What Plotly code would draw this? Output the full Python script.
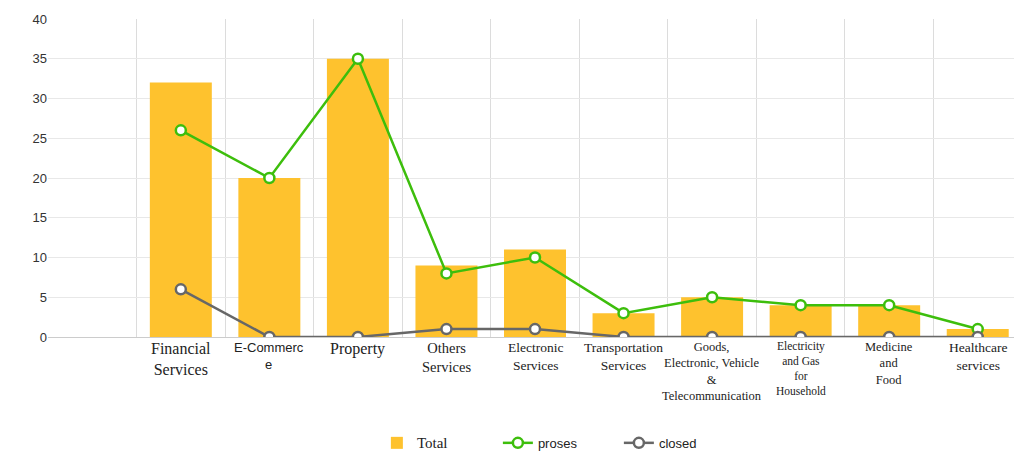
import plotly.graph_objects as go

categories = ["Financial<br>Services", "E-Commerc<br>e", "Property", "Others<br>Services",
              "Electronic<br>Services", "Transportation<br>Services",
              "Goods,<br>Electronic, Vehicle<br>&amp;<br>Telecommunication",
              "Electricity<br>and Gas<br>for<br>Household", "Medicine<br>and<br>Food",
              "Healthcare<br>services"]
total = [32, 20, 35, 9, 11, 3, 5, 4, 4, 1]
proses = [26, 20, 35, 8, 10, 3, 5, 4, 4, 1]
closed = [6, 0, 0, 1, 1, 0, 0, 0, 0, 0]
y_ticks = [0, 5, 10, 15, 20, 25, 30, 35, 40]

label_fonts = [
    ("Liberation Serif", 16), ("Liberation Sans", 13), ("Liberation Serif", 16),
    ("Liberation Serif", 14.5), ("Liberation Serif", 13.5), ("Liberation Serif", 13.5),
    ("Liberation Serif", 12.5), ("Liberation Serif", 11.5), ("Liberation Serif", 12.5),
    ("Liberation Serif", 13.5),
]

xs = list(range(1, len(categories) + 1))

fig = go.Figure()
fig.add_trace(go.Bar(
    x=xs, y=total, width=0.7, name="<span style='font-family:Liberation Serif;font-size:15px'>Total</span>",
    marker=dict(color="#FEC22E", line=dict(width=0)),
))
fig.add_trace(go.Scatter(
    x=xs, y=proses, mode="lines+markers", name="proses",
    line=dict(color="#3DBE0C", width=2.5),
    marker=dict(size=10, color="white", line=dict(color="#3DBE0C", width=2.5)),
))
fig.add_trace(go.Scatter(
    x=xs, y=closed, mode="lines+markers", name="closed",
    line=dict(color="#676767", width=2.5),
    marker=dict(size=10, color="white", line=dict(color="#676767", width=2.5)),
))

for x, lab, (fam, sz) in zip(xs, categories, label_fonts):
    fig.add_annotation(x=x, y=0, xref="x", yref="y", text=lab, showarrow=False,
                       yanchor="top", yshift=-1, align="center",
                       font=dict(family=fam, size=sz, color="#222222"))

fig.update_layout(
    width=1014, height=458,
    margin=dict(l=40, r=0, t=11, b=129),
    plot_bgcolor="white", paper_bgcolor="white",
    showlegend=True,
    legend=dict(orientation="h", x=0.524, xanchor="center", y=-0.333, yanchor="middle",
                font=dict(family="Liberation Sans", size=13, color="#222222"),
                entrywidth=76, entrywidthmode="pixels", itemwidth=30),
    xaxis=dict(range=[-0.5, 10.5], tickvals=[i + 0.5 for i in range(0, 10)],
               showticklabels=False, showgrid=True, gridcolor="#dcdcdc", gridwidth=1,
               zeroline=False, ticks=""),
    yaxis=dict(range=[0, 40], tickvals=y_ticks, showgrid=True, gridcolor="#e8e8e8",
               zeroline=True, zerolinecolor="#cccccc", zerolinewidth=1,
               tickfont=dict(family="Liberation Sans", size=13, color="#333333"), ticks=""),
)

fig.write_html("out.html")
